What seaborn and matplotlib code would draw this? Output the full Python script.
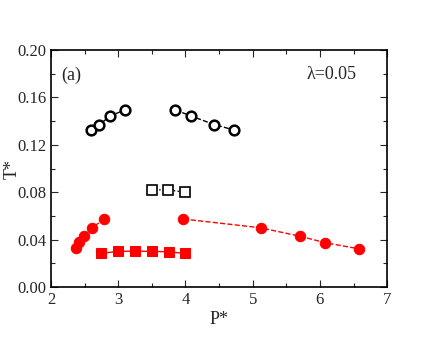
import numpy as np
import pandas as pd
import matplotlib
matplotlib.use('Agg')
import matplotlib.pyplot as plt
import seaborn as sns
from matplotlib.ticker import MultipleLocator

# Data
p_open_circ = [2.60, 2.72, 2.88, 3.10, 3.85, 4.08, 4.43, 4.72]
t_open_circ = [0.1325, 0.137, 0.1443, 0.1494, 0.1494, 0.1443, 0.137, 0.1325]

p_open_sq = [3.50, 3.74, 3.99]
t_open_sq = [0.082, 0.082, 0.080]

p_red_circ = [2.37, 2.42, 2.49, 2.61, 2.79, 3.97, 5.12, 5.71, 6.08, 6.58]
t_red_circ = [0.0327, 0.0377, 0.043, 0.050, 0.0574, 0.0574, 0.050, 0.0428, 0.0374, 0.0323]

p_red_sq = [2.74, 2.99, 3.25, 3.50, 3.75, 3.99]
t_red_sq = [0.0284, 0.0301, 0.0304, 0.0301, 0.0298, 0.0284]

sns.set_style('ticks')
plt.rcParams['font.family'] = ['Liberation Serif', 'DejaVu Serif']

fig = plt.figure(figsize=(4.36, 3.37), dpi=100)
ax = fig.add_axes([0.117, 0.148, 0.771, 0.704])

# black open circles, dashed, two branches
for sl in (slice(0, 4), slice(4, 8)):
    sns.lineplot(x=p_open_circ[sl], y=t_open_circ[sl], ax=ax, sort=False,
                 color='black', linewidth=1.0, marker='o',
                 markersize=7, markerfacecolor='white', markeredgecolor='black',
                 markeredgewidth=1.8)
    ax.lines[-1].set_linestyle('--')

sns.lineplot(x=p_open_sq, y=t_open_sq, ax=ax, sort=False, color='black',
             linewidth=1.0, marker='s', markersize=7, markerfacecolor='white',
             markeredgecolor='black', markeredgewidth=1.2)
ax.lines[-1].set_linestyle(':')

for sl in (slice(0, 5), slice(5, 10)):
    sns.lineplot(x=p_red_circ[sl], y=t_red_circ[sl], ax=ax, sort=False,
                 color='red', linewidth=1.0, marker='o', markersize=7.5,
                 markeredgecolor='red')
    ax.lines[-1].set_linestyle('--')

sns.lineplot(x=p_red_sq, y=t_red_sq, ax=ax, sort=False, color='red',
             linewidth=1.0, marker='s', markersize=6.5, markeredgecolor='red')

ax.set_xlim(2, 7)
ax.set_ylim(0, 0.20)
ax.xaxis.set_major_locator(MultipleLocator(1))
ax.xaxis.set_minor_locator(MultipleLocator(0.5))
ax.yaxis.set_major_locator(MultipleLocator(0.04))
ax.yaxis.set_minor_locator(MultipleLocator(0.02))
ax.yaxis.set_major_formatter(matplotlib.ticker.FormatStrFormatter('%.2f'))
ax.tick_params(which='both', direction='in', top=True, right=True,
               labelsize=12, width=0.8)
ax.tick_params(which='major', length=5)
ax.tick_params(which='minor', length=3)
for s in ax.spines.values():
    s.set_visible(True)
    s.set_linewidth(1.2)
    s.set_color('black')

ax.set_xlabel('P*', fontsize=13, labelpad=2)
ax.set_ylabel('T*', fontsize=13)
ax.yaxis.set_label_coords(-0.09, 0.5)
ax.text(0.03, 0.93, '(a)', transform=ax.transAxes, fontsize=13, va='top')
ax.text(0.91, 0.93, 'λ=0.05', transform=ax.transAxes, fontsize=13,
        va='top', ha='right')

fig.savefig('out.png', dpi=100)
